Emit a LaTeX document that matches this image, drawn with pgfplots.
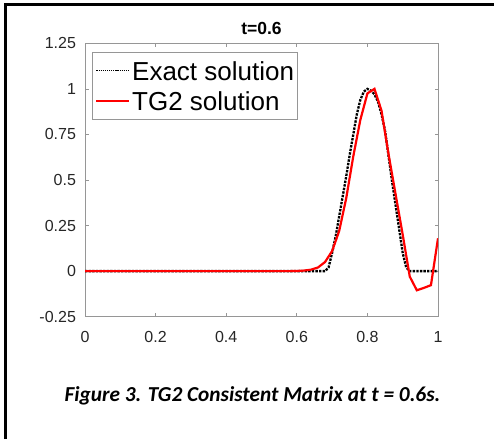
\documentclass[border=0pt]{standalone}
\usepackage{fontspec}
\setmainfont{Liberation Sans}
\newfontfamily\capfont{Carlito}
\usepackage{pgfplots}
\pgfplotsset{compat=1.18}
\definecolor{axgray}{RGB}{150,150,150}
\definecolor{lblgray}{RGB}{38,38,38}
\begin{document}
\begin{tikzpicture}
\useasboundingbox (0pt,0pt) rectangle (494pt,439pt);
\draw[line width=2.6pt] (5.6pt,0pt) -- (5.6pt,434.2pt) -- (494pt,434.2pt);
\begin{axis}[
  at={(85pt,122.3pt)}, anchor=south west,
  scale only axis, width=353pt, height=273.4pt,
  xmin=0, xmax=1, ymin=-0.25, ymax=1.25,
  xtick={0,0.2,0.4,0.6,0.8,1},
  xticklabels={0,0.2,0.4,0.6,0.8,1},
  ytick={-0.25,0,0.25,0.5,0.75,1,1.25},
  yticklabels={-0.25,0,0.25,0.5,0.75,1,1.25},
  tick align=inside, major tick length=3.5pt,
  tick style={axgray, line width=0.7pt},
  axis line style={axgray, line width=0.8pt},
  ticklabel style={font=\fontsize{16}{16}\selectfont, text=lblgray},
  xticklabel style={yshift=-11pt},
  yticklabel style={xshift=-5.5pt},
  title={t=0.6},
  title style={at={(0.5,1)}, anchor=base, yshift=3.0pt, font=\fontsize{17.5}{17.5}\selectfont\bfseries},
  legend style={at={(0.0207,0.9693)}, anchor=north west, draw=axgray, line width=0.7pt, fill=white,
    font=\fontsize{26}{26}\selectfont, inner xsep=3pt, inner ysep=3pt, row sep=0pt,
    nodes={inner sep=0pt, text height=25pt, text depth=5.5pt},
    /tikz/every even column/.append style={column sep=3pt}},
  legend cell align=left,
]
\addplot[black, line width=2.3pt, dash pattern=on 2.4pt off 1.2pt,
  legend image code/.code={\draw[black, line width=1.1pt, dash pattern=on 1.2pt off 0.9pt] (0pt,0pt) -- (32.5pt,0pt);}]
coordinates {
(0,0) (0.68,0) (0.69,0.02) (0.70,0.10) (0.71,0.19) (0.72,0.30) (0.73,0.41)
(0.74,0.52) (0.75,0.64) (0.76,0.75) (0.77,0.86) (0.78,0.94) (0.79,0.985)
(0.80,1.0) (0.81,0.99) (0.82,0.97) (0.83,0.93) (0.84,0.86) (0.85,0.77)
(0.86,0.63) (0.87,0.49) (0.88,0.36) (0.89,0.23) (0.90,0.10) (0.91,0.02)
(0.92,0) (1,0)
};
\addlegendentry{\hspace*{2.5pt}Exact solution}
\addplot[red, line width=2.2pt,
  legend image code/.code={\draw[color=red, line width=1.5pt] (0pt,0pt) -- (32.5pt,0pt);}]
coordinates {
(0,0) (0.58,0) (0.60,0.001) (0.62,0.003) (0.64,0.008) (0.66,0.02) (0.68,0.05)
(0.70,0.11) (0.72,0.22) (0.74,0.40) (0.76,0.63) (0.78,0.83) (0.80,0.975)
(0.82,1.0) (0.84,0.88) (0.86,0.64) (0.88,0.42) (0.90,0.20) (0.92,-0.03)
(0.94,-0.105) (0.96,-0.092) (0.98,-0.077) (1.00,0.18)
};
\addlegendentry{\hspace*{2.5pt}TG2 solution}
\end{axis}
\node[font=\capfont\fontsize{21.3}{21.3}\selectfont\bfseries\itshape, anchor=base] at (252.5pt,37.3pt) {Figure 3. TG2 Consistent Matrix at t = 0.6s.};
\end{tikzpicture}
\end{document}
